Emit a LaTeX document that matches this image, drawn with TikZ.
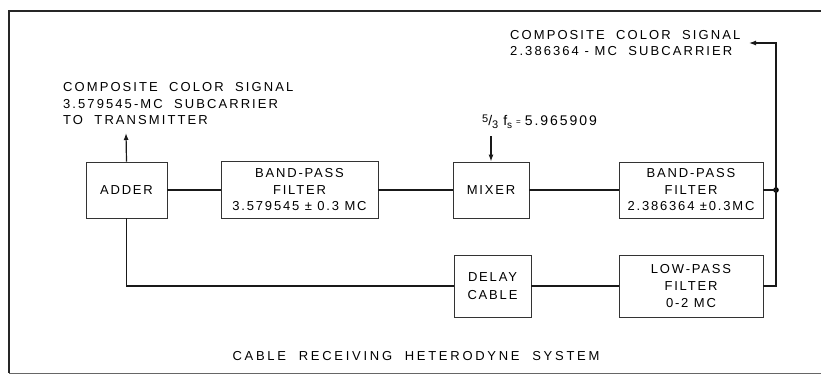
\documentclass[tikz,border=0pt]{standalone}
\usepackage{fontspec}
\setmainfont{Liberation Sans}
\newfontfamily\lblfont[LetterSpace=14]{Liberation Sans}
\newfontfamily\sigfont[LetterSpace=16]{Liberation Sans}
\newfontfamily\capfont[LetterSpace=21]{Liberation Sans}
\usetikzlibrary{arrows.meta}
\begin{document}
\begin{tikzpicture}[x=1pt,y=-1pt,
  blk/.style={draw=black!80, line width=0.9pt, minimum width=#1, inner sep=0pt, align=center,
    font=\lblfont\fontsize{13}{16.5}\selectfont},
  wire/.style={draw=black!90, line width=1.2pt},
  arr/.style={wire, -{Latex[length=7pt,width=5pt]}},
  txt/.style={font=\sigfont\fontsize{13}{16.5}\selectfont, inner sep=0pt}
  ]
\useasboundingbox (0,0) rectangle (821,375);
% frame
\draw[line width=2pt, black!85] (830,11) -- (9,11) -- (9,373);
\draw[line width=1pt, black!60] (9,373) -- (830,373);

\node[blk=81pt, minimum height=56pt] (adder) at (126.5,190) {ADDER};
\node[blk=157pt, minimum height=57pt] (bpf1) at (299.5,190) {BAND-PASS\\FILTER\\3.579545 ± 0.3 MC};
\node[blk=76pt, minimum height=56pt] (mixer) at (491,190) {MIXER};
\node[blk=144pt, minimum height=56pt] (bpf2) at (691,190) {BAND-PASS\\FILTER\\2.386364 ±0.3MC};
\node[blk=77pt, minimum height=62pt, font=\lblfont\fontsize{13}{18}\selectfont] (delay) at (492.5,286) {DELAY\\CABLE};
\node[blk=144pt, minimum height=62pt, font=\lblfont\fontsize{13}{17}\selectfont] (lpf) at (691,286) {LOW-PASS\\FILTER\\0-2 MC};

\coordinate (dot) at (776,190);
\coordinate (corner) at (776,43);
\coordinate (outtip) at (749,43);
\coordinate (addout) at (126,133);
\coordinate (mixin) at (491,136);

\fill (dot) circle (2.8pt);

% text labels
\node[txt, anchor=west, align=left] (ltxt) at (63,104) {COMPOSITE\ \ COLOR\ \ SIGNAL\\3.579545-MC\ \ SUBCARRIER\\TO\ \ TRANSMITTER};
\node[txt, anchor=west, align=left] (rtxt) at (510,43) {COMPOSITE\ \ COLOR\ \ SIGNAL\\2.386364 - MC\ \ SUBCARRIER};
\node[font=\lblfont\fontsize{14}{15}\selectfont, inner sep=0pt, anchor=west] (mtxt) at (482,122) {\raisebox{3pt}{\fontsize{11}{11}\selectfont 5}/\raisebox{-3pt}{\fontsize{11}{11}\selectfont 3}\hspace{5pt}f\raisebox{-3pt}{\fontsize{10}{10}\selectfont s}\hspace{4pt}\raisebox{1pt}{\fontsize{8}{8}\selectfont =}\hspace{4pt}5.965909};
\node[font=\capfont\fontsize{13}{15}\selectfont, inner sep=0pt] (cap) at (416,356) {CABLE\ \ RECEIVING\ \ HETERODYNE\ \ SYSTEM};

% connectors
\draw[wire] (adder.east) -- (bpf1.west);
\draw[wire] (bpf1.east) -- (mixer.west);
\draw[wire] (mixer.east) -- (bpf2.west);
\draw[wire] (bpf2.east) -- (dot);
\draw[arr] (dot) -- (corner) -- (outtip);
\draw[wire] (dot) |- (lpf.east);
\draw[wire] (lpf.west) -- (delay.east);
\draw[wire] (delay.west) -| (adder.south);
\draw[arr] (adder.north) -- (addout);
\draw[arr] (mixin) -- (mixer.north);
\end{tikzpicture}
\end{document}
